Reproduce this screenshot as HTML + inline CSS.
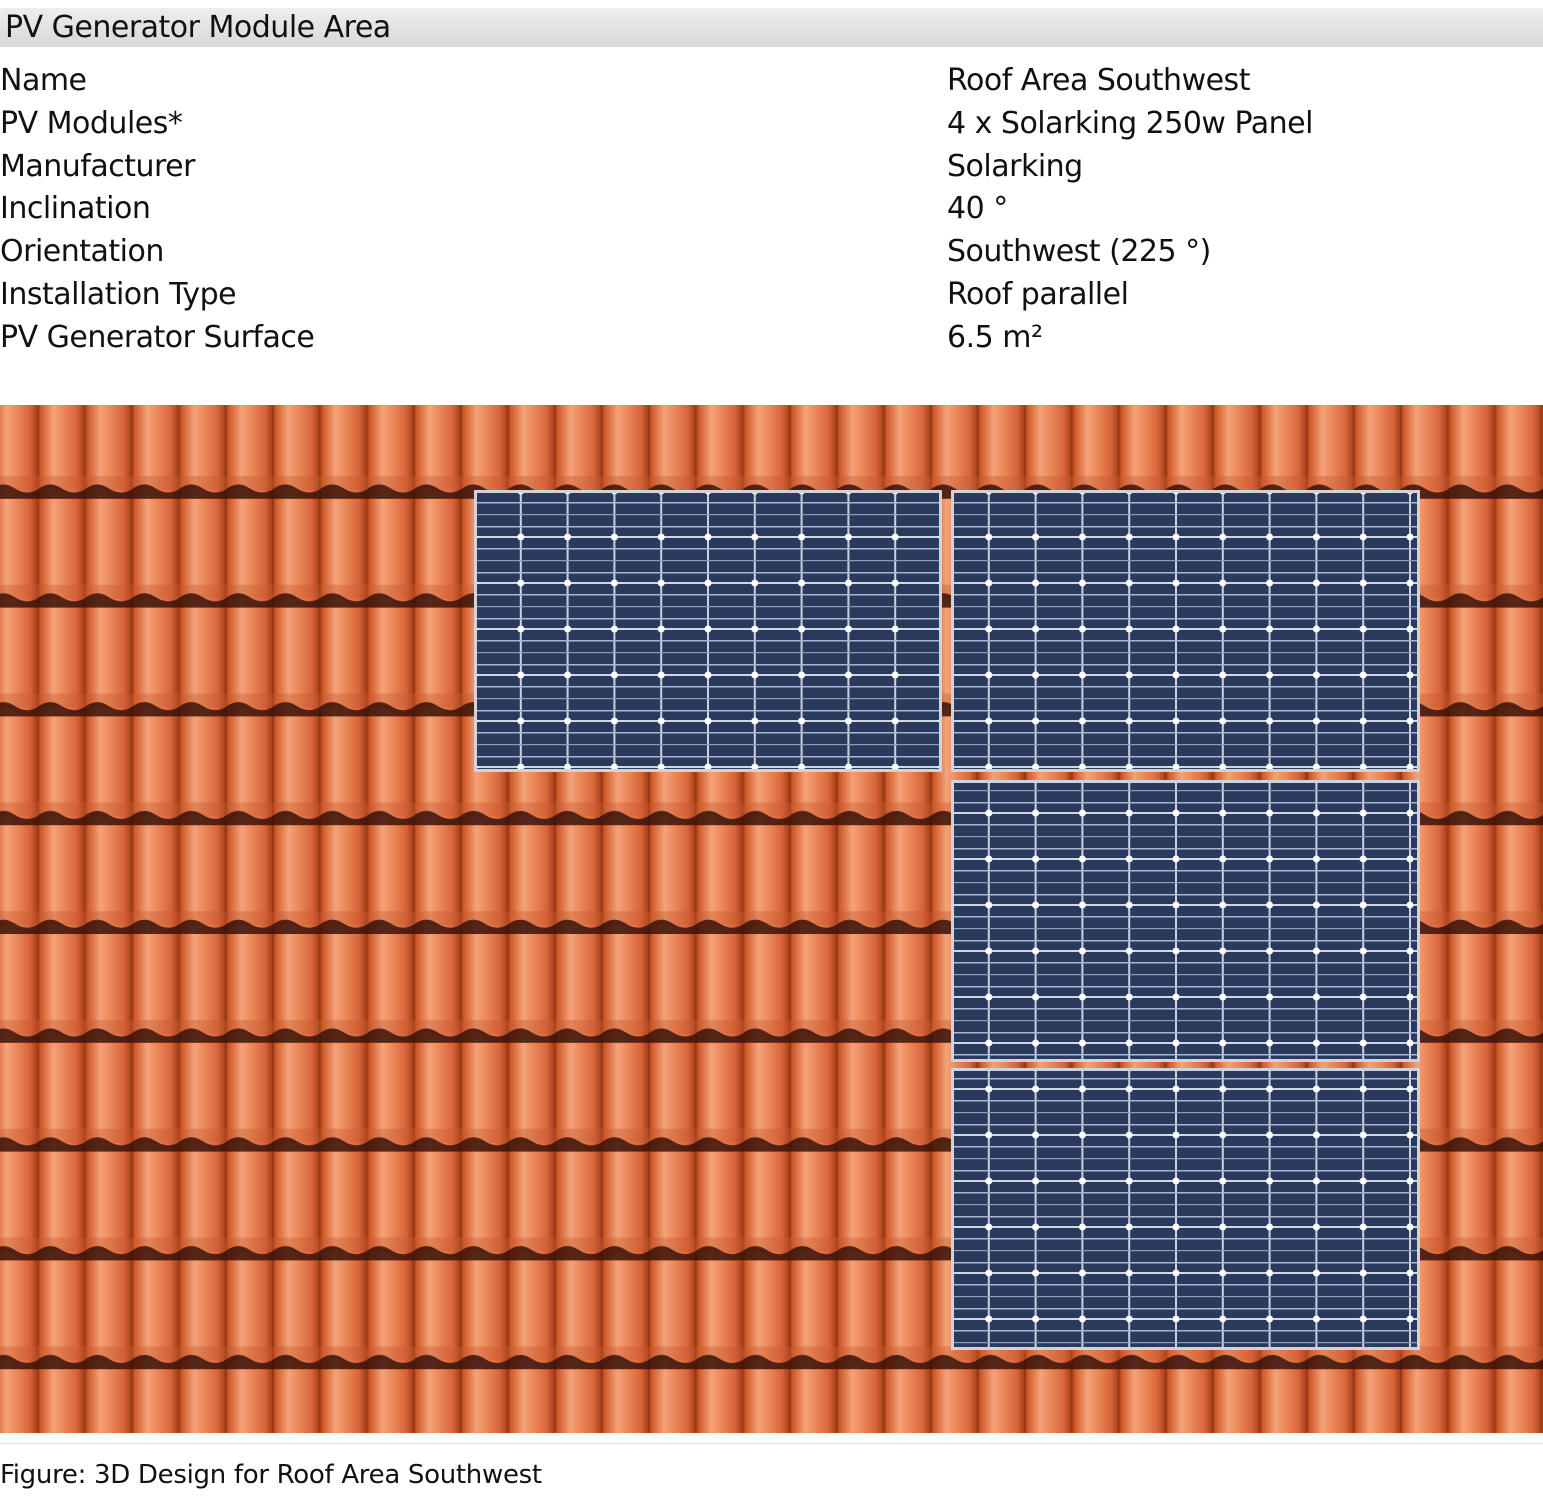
<!DOCTYPE html>
<html><head><meta charset="utf-8"><style>
body{margin:0;width:1543px;height:1504px;background:#fff;font-family:"DejaVu Sans","Liberation Sans",sans-serif;position:relative;overflow:hidden;color:#111}
.hdr{position:absolute;left:0;top:8px;width:1543px;height:39px;background:linear-gradient(#eee,#d8d8d8);font-size:30px;line-height:40px;padding-left:5px;box-sizing:border-box;letter-spacing:-0.5px;white-space:nowrap}
.row{position:absolute;left:0;width:1543px;font-size:30px;letter-spacing:-0.5px;line-height:36px;white-space:nowrap}
.v{position:absolute;left:947px;white-space:nowrap}
svg{position:absolute;left:0;top:405px}
.cap{position:absolute;left:0;top:1443px;width:1543px;border-top:1px solid #ddd;font-size:26px;padding-top:16px;letter-spacing:-0.3px;white-space:nowrap}
</style></head><body>
<div class="hdr">PV Generator Module Area</div>
<div class="row" style="top:63px">Name<span class="v">Roof Area Southwest</span></div>
<div class="row" style="top:106px">PV Modules*<span class="v">4 x Solarking 250w Panel</span></div>
<div class="row" style="top:149px">Manufacturer<span class="v">Solarking</span></div>
<div class="row" style="top:191px">Inclination<span class="v">40 °</span></div>
<div class="row" style="top:234px">Orientation<span class="v">Southwest (225 °)</span></div>
<div class="row" style="top:277px">Installation Type<span class="v">Roof parallel</span></div>
<div class="row" style="top:320px">PV Generator Surface<span class="v">6.5 m²</span></div>
<svg width="1543" height="1028" viewBox="0 0 1543 1028">
<defs>
<linearGradient id="tg" x1="0" x2="1" y1="0" y2="0">
<stop offset="0" stop-color="#8a2f10"/><stop offset="0.08" stop-color="#d05a28"/>
<stop offset="0.35" stop-color="#f4a27a"/><stop offset="0.55" stop-color="#ec8a5a"/>
<stop offset="0.85" stop-color="#d8643a"/><stop offset="1" stop-color="#a8401a"/>
</linearGradient>
<pattern id="tile" width="47" height="108.8" patternUnits="userSpaceOnUse" x="-10" y="-15">
<rect width="47" height="110" fill="url(#tg)"/>
<rect x="0" y="86" width="47" height="14" fill="#c85a30" opacity="0.4"/>
<path d="M0 100 Q12 90 24 98 T47 100 L47 116 Q35 122 24 114 T0 116 Z" fill="#3a1208" opacity="0.85"/>
</pattern>
<pattern id="cell" width="46.8" height="46" patternUnits="userSpaceOnUse" x="6" y="40">
<rect width="46.8" height="46" fill="#2a3a5c"/>
<rect x="-1" y="0" width="2" height="46" fill="#c8d2e2"/>
<rect x="45.8" y="0" width="2" height="46" fill="#c8d2e2"/>
<rect x="0" y="11" width="46.8" height="1.5" fill="#aab6cc"/>
<rect x="0" y="-1" width="46.8" height="2" fill="#d0d8e6"/>
<rect x="0" y="45" width="46.8" height="2" fill="#d0d8e6"/>
<rect x="0" y="35" width="46.8" height="1.5" fill="#aab6cc"/>
<rect x="0" y="23" width="46.8" height="1.2" fill="#8f9cb6"/>
<circle cx="0" cy="0" r="3.5" fill="#fff"/><circle cx="46.8" cy="0" r="3.5" fill="#fff"/>
<circle cx="0" cy="46" r="3.5" fill="#fff"/><circle cx="46.8" cy="46" r="3.5" fill="#fff"/>
</pattern>
</defs>
<rect width="1543" height="1028" fill="url(#tile)"/>
<rect x="474" y="85" width="468" height="282" fill="#cfd4dc"/>
<rect x="477" y="88" width="462" height="276" fill="url(#cell)"/>
<rect x="951" y="85" width="469" height="282" fill="#cfd4dc"/>
<rect x="954" y="88" width="463" height="276" fill="url(#cell)"/>
<rect x="951" y="375" width="469" height="282" fill="#cfd4dc"/>
<rect x="954" y="378" width="463" height="276" fill="url(#cell)"/>
<rect x="951" y="663" width="469" height="282" fill="#cfd4dc"/>
<rect x="954" y="666" width="463" height="276" fill="url(#cell)"/>
</svg>
<div class="cap">Figure: 3D Design for Roof Area Southwest</div>
</body></html>
